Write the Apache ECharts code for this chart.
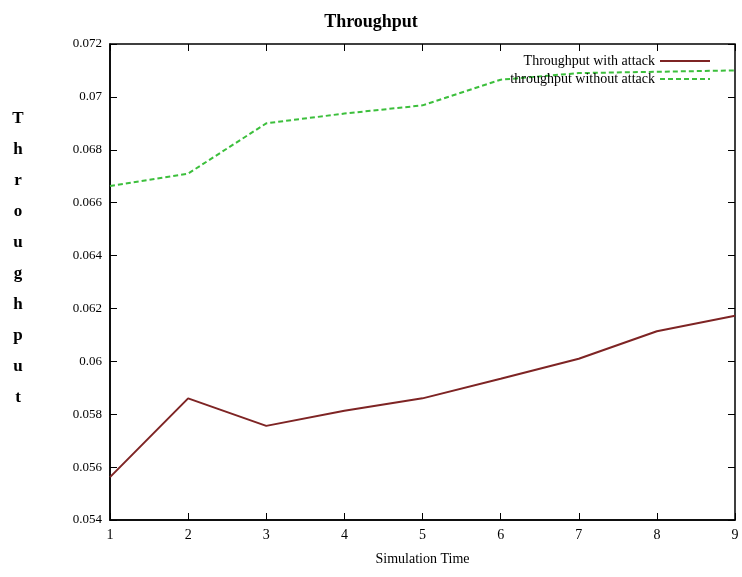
<!DOCTYPE html>
<html>
<head>
<meta charset="utf-8">
<script src="https://cdn.jsdelivr.net/npm/echarts@6/dist/echarts.min.js"></script>
<style>
  html, body { margin: 0; padding: 0; background: #fff; }
  #main { width: 742px; height: 577px; }
</style>
</head>
<body>
<div id="main"></div>
<script>
var simTime = [1, 2, 3, 4, 5, 6, 7, 8, 9];
var withAttack = [0.05562, 0.0586, 0.05756, 0.05813, 0.0586, 0.05934, 0.0601, 0.06114, 0.06172];
var withoutAttack = [0.06663, 0.0671, 0.0690, 0.06937, 0.06968, 0.07065, 0.0709, 0.07095, 0.0710];
var yTicks = [0.054, 0.056, 0.058, 0.06, 0.062, 0.064, 0.066, 0.068, 0.07, 0.072];

var dom = document.getElementById('main');
var myChart = echarts.init(dom, null, { renderer: 'canvas' });

function pairs(vals) {
  return simTime.map(function (x, i) { return [x, vals[i]]; });
}

var serif = '"Liberation Serif", "DejaVu Serif", serif';

var option = {
  backgroundColor: '#ffffff',
  animation: false,
  title: {
    text: 'Throughput',
    left: 'center',
    top: 8,
    textStyle: { fontFamily: serif, fontSize: 18, fontWeight: 'bold', color: '#000' }
  },
  // vertical y axis title, one letter per line
  graphic: [{
    type: 'text',
    x: 18,
    y: 103,
    style: {
      text: 'T\nh\nr\no\nu\ng\nh\np\nu\nt',
      font: 'bold 17px ' + serif,
      fill: '#000',
      lineHeight: 31,
      align: 'center',
      verticalAlign: 'top'
    }
  }],
  legend: {
    orient: 'vertical',
    right: 26,
    top: 49,
    align: 'right',
    itemWidth: 50,
    itemHeight: 10,
    itemGap: 4,
    itemStyle: { opacity: 0 },
    textStyle: { fontFamily: serif, fontSize: 14, color: '#000' },
    data: ['Throughput with attack', 'throughput without attack']
  },
  grid: {
    left: 110,
    right: 7,
    top: 44,
    bottom: 57,
    show: true,
    borderColor: '#000',
    borderWidth: 1.5
  },
  xAxis: [{
    type: 'value',
    min: 1,
    max: 9,
    interval: 1,
    name: 'Simulation Time',
    nameLocation: 'middle',
    nameGap: 32,
    nameTextStyle: { fontFamily: serif, fontSize: 14, color: '#000' },
    axisLine: { lineStyle: { color: '#000', width: 1.5 } },
    axisTick: { inside: true, length: 7, lineStyle: { color: '#000' } },
    axisLabel: { fontFamily: serif, fontSize: 14, color: '#000', margin: 8 },
    splitLine: { show: false }
  }, {
    type: 'value',
    position: 'top',
    min: 1,
    max: 9,
    interval: 1,
    axisLine: { show: false },
    axisTick: { inside: true, length: 7, lineStyle: { color: '#000' } },
    axisLabel: { show: false },
    splitLine: { show: false }
  }],
  yAxis: [{
    type: 'value',
    min: 0.054,
    max: 0.072,
    interval: 0.002,
    axisLine: { lineStyle: { color: '#000', width: 1.5 } },
    axisTick: { inside: true, length: 7, lineStyle: { color: '#000' } },
    axisLabel: {
      fontFamily: serif, fontSize: 13, color: '#000', margin: 8,
      formatter: function (v) { return String(parseFloat(v.toFixed(3))); }
    },
    splitLine: { show: false }
  }, {
    type: 'value',
    position: 'right',
    min: 0.054,
    max: 0.072,
    interval: 0.002,
    axisLine: { show: false },
    axisTick: { inside: true, length: 7, lineStyle: { color: '#000' } },
    axisLabel: { show: false },
    splitLine: { show: false }
  }],
  series: [{
    name: 'Throughput with attack',
    type: 'line',
    symbol: 'none',
    color: '#7e2424',
    lineStyle: { color: '#7e2424', width: 2 },
    data: pairs(withAttack)
  }, {
    name: 'throughput without attack',
    type: 'line',
    symbol: 'none',
    color: '#3cbf3c',
    lineStyle: { color: '#3cbf3c', width: 2, type: [5, 3] },
    data: pairs(withoutAttack)
  }]
};

myChart.setOption(option);
</script>
</body>
</html>
